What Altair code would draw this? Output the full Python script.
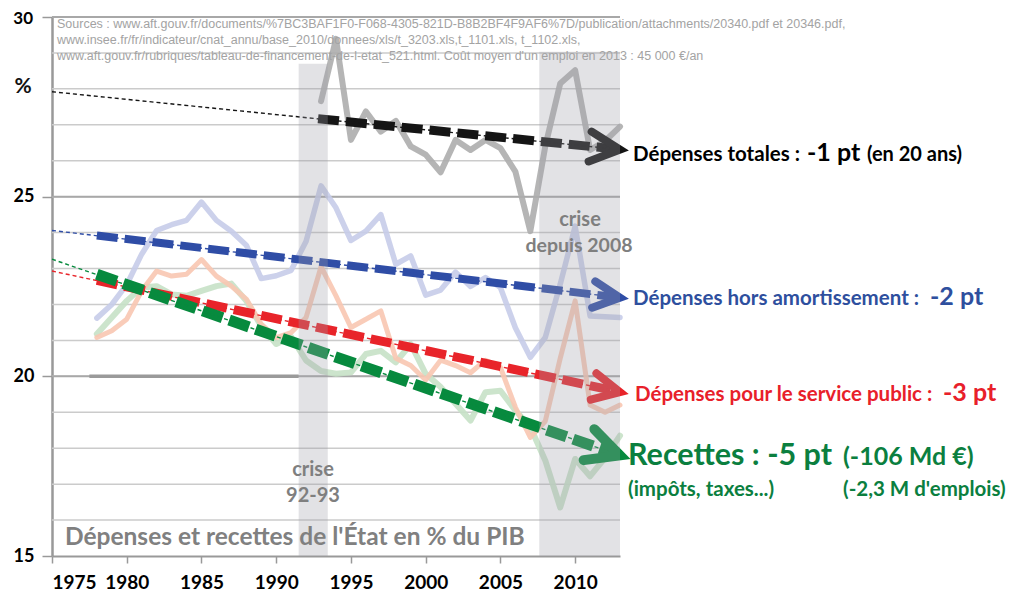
import altair as alt
import pandas as pd

FONT = "Lato"
SRC_FONT = "Liberation Sans"

# ---------------- data ----------------
years = list(range(1978, 2014))
hors_amort = [21.62, 22.0, 22.55, 23.4, 24.06, 24.22, 24.34, 24.85, 24.34, 24.04,
              23.65, 22.72, 22.8, 22.95, 23.76, 25.3, 24.69, 23.78, 24.04, 24.5,
              23.12, 23.35, 22.26, 22.4, 22.9, 22.5, 22.75, 22.47, 21.35, 20.53,
              21.08, 22.56, 24.18, 21.68, 21.66, 21.64]
service_public = [21.08, 21.27, 21.59, 22.38, 22.93, 22.79, 22.84, 23.25, 22.79, 22.51,
                  22.15, 21.45, 21.08, 21.22, 21.64, 23.05, 22.24, 21.36, 21.59, 21.82,
                  20.5, 20.3, 19.9, 20.45, 20.3, 20.1, 20.45, 20.25, 19.14, 18.3,
                  18.75, 20.5, 22.1, 19.2, 19.0, 19.2]
recettes = [21.18, 21.64, 22.1, 22.47, 22.51, 22.28, 22.24, 22.38, 22.51, 22.58,
            22.1, 21.4, 20.9, 21.1, 20.44, 20.15, 20.07, 20.11, 20.62, 20.71,
            20.39, 20.9, 20.07, 19.7, 19.24, 18.77, 19.56, 19.6, 19.05, 18.59,
            17.66, 16.35, 17.7, 17.22, 17.73, 18.35]
years_tot = list(range(1993, 2014))
totales = [27.66, 29.39, 26.58, 27.37, 26.81, 27.11, 26.40, 26.17, 25.68, 26.58,
           26.30, 26.58, 26.35, 25.70, 24.04, 26.4, 28.15, 28.52, 26.30, 26.55, 26.95]

# trend lines (values read at their ends)
trend_keys = ["totales", "hors", "service", "recettes"]
trend_v1975 = [27.92, 24.06, 22.93, 23.26]
trend_v2013 = [26.31, 22.19, 19.56, 17.80]
thick_start_year = [1992.8, 1978, 1978, 1978]
thick_start_val = [27.17, 23.92, 22.67, 22.84]
thick_end_year = [2012.6, 2012.6, 2012.6, 2012.6]
thick_end_val = [26.33, 22.21, 19.60, 17.86]

# crisis bands
band_start = [1991.5, 2007.6]
band_end = [1993.45, 2013]
band_top = [28.7, 29.03]
band_bottom = [15, 15]

grid_values = list(range(16, 30))
major_grid = [20, 25, 30]
x_ticks = [1975, 1980, 1985, 1990, 1995, 2000, 2005, 2010]
y_ticks = [15, 20, 25, 30]

# ---------------- styles ----------------
trend_colors = ["#151515", "#2f4da6", "#e8242a", "#078a3e"]
trend_widths = [9, 8, 9, 11]
arrow_angles = [5.8, 6.8, 12.1, 19.1]
arrow_sizes = [3600, 2800, 2916, 4300]
arrow_sw = [8, 8, 8, 10]

W, H = 568, 539
TOP = 9  # plot top offset inside the svg (page y = 8 + TOP)
xscale = alt.Scale(domain=[1975, 2013], nice=False, zero=False)
yscale = alt.Scale(domain=[15, 30], nice=False, zero=False)
xaxis = alt.Axis(values=x_ticks, format="d", title=None, grid=False)
yaxis = alt.Axis(values=y_ticks, format="d", title=None, grid=False,
                 labelExpr="datum.value == 30 ? '' : datum.label")


def X(f):
    return alt.X(f, type="quantitative", scale=xscale, axis=xaxis)


def Y(f):
    return alt.Y(f, type="quantitative", scale=yscale, axis=yaxis)


layers = []

# gridlines
gdf = pd.DataFrame({"v": grid_values, "a": 1975, "b": 2013})
layers.append(alt.Chart(gdf).mark_rule(color="#cbcbcb", strokeWidth=1.5).encode(
    x=X("a"), x2=alt.X2("b"), y=Y("v")))
mdf = pd.DataFrame({"v": major_grid, "a": 1975, "b": 2013})
layers.append(alt.Chart(mdf).mark_rule(color="#a8a8a8", strokeWidth=2).encode(
    x=X("a"), x2=alt.X2("b"), y=Y("v")))
# thick gray segment on the 20 line
sdf = pd.DataFrame({"v": [20], "a": [1977.5], "b": [1991.5]})
layers.append(alt.Chart(sdf).mark_rule(color="#9a9a9a", strokeWidth=3.5).encode(
    x=X("a"), x2=alt.X2("b"), y=Y("v")))

# series lines
series = [
    (years, recettes, "#c6e1c6", 6),
    (years, service_public, "#f8c7b1", 5),
    (years, hors_amort, "#c7cce9", 5.5),
    (years_tot, totales, "#adadad", 6),
]
for yrs, vals, col, sw in series:
    df = pd.DataFrame({"year": yrs, "v": vals})
    layers.append(alt.Chart(df).mark_line(color=col, strokeWidth=sw, strokeJoin="round",
                                          strokeCap="round", opacity=0.9).encode(
        x=X("year"), y=Y("v")))

# trend lines
for i, k in enumerate(trend_keys):
    thin = pd.DataFrame({"year": [1975, 2013], "v": [trend_v1975[i], trend_v2013[i]]})
    thick = pd.DataFrame({"year": [thick_start_year[i], thick_end_year[i]],
                          "v": [thick_start_val[i], thick_end_val[i]]})
    layers.append(alt.Chart(thick).mark_line(color=trend_colors[i], strokeWidth=trend_widths[i],
                                             strokeDash=[21, 7], strokeCap="butt").encode(
        x=X("year"), y=Y("v")))
    layers.append(alt.Chart(thin).mark_line(color=trend_colors[i], strokeWidth=1.4,
                                            strokeDash=[4, 3]).encode(
        x=X("year"), y=Y("v")))
    tip = pd.DataFrame({"year": [2013], "v": [trend_v2013[i]]})
    layers.append(alt.Chart(tip).mark_point(shape="M-1,-0.5L0,0L-1,0.5", filled=False,
                                            color=trend_colors[i], strokeWidth=arrow_sw[i],
                                            size=arrow_sizes[i], angle=arrow_angles[i],
                                            strokeCap="round", strokeJoin="miter",
                                            opacity=1).encode(
        x=X("year"), y=Y("v")))

# crisis bands (translucent overlay)
bdf = pd.DataFrame({"a": band_start, "b": band_end, "t": band_top, "u": band_bottom})
layers.append(alt.Chart(bdf).mark_rect(color="#a0a0a8", opacity=0.3).encode(
    x=X("a"), x2=alt.X2("b"), y=Y("t"), y2=alt.Y2("u")))

dummy = pd.DataFrame({"d": [0]})


def label(text, px, py, size, color, align="left", baseline="alphabetic",
          font=FONT, weight="bold"):
    # px, py are page coordinates of the reference picture
    return alt.Chart(dummy).mark_text(text=text, align=align, baseline=baseline, font=font,
                                      fontSize=size, fontWeight=weight, color=color).encode(
        x=alt.value(px - 52), y=alt.value(py - 8 - TOP))


# left frame line
layers.append(alt.Chart(dummy).mark_rule(color="#9a9a9a", strokeWidth=1).encode(
    x=alt.value(-46), y=alt.value(-TOP), y2=alt.value(588 - TOP)))

src_col = "#a3a3a3"
layers += [
    label("Sources : www.aft.gouv.fr/documents/%7BC3BAF1F0-F068-4305-821D-B8B2BF4F9AF6%7D/publication/attachments/20340.pdf et 20346.pdf,",
          57, 28, 12.5, src_col, font=SRC_FONT, weight="normal"),
    label(" www.insee.fr/fr/indicateur/cnat_annu/base_2010/donnees/xls/t_3203.xls,t_1101.xls, t_1102.xls,",
          57, 44, 12.5, src_col, font=SRC_FONT, weight="normal"),
    label(" www.aft.gouv.fr/rubriques/tableau-de-financement-de-l-etat_521.html. Coût moyen d'un emploi en 2013 : 45 000 €/an",
          57, 60, 12.5, src_col, font=SRC_FONT, weight="normal"),
    label("30", 33, 19, 17, "#000", align="right", baseline="middle"),
    label("%", 23, 87, 21, "#111", align="center", baseline="middle"),
    label("crise", 313, 470, 20, "#7f7f7f", align="center", baseline="middle"),
    label("92-93", 313, 496, 20, "#7f7f7f", align="center", baseline="middle"),
    label("crise", 580, 220, 20, "#7f7f7f", align="center", baseline="middle"),
    label("depuis 2008", 579, 246, 19.5, "#7f7f7f", align="center", baseline="middle"),
    label("Dépenses et recettes de l'État en % du PIB", 65, 545, 24.5, "#808080"),
    # right annotations
    label("Dépenses totales :", 633, 161, 20.5, "#000000"),
    label("-1 pt", 807, 161, 25, "#000000"),
    label("(en 20 ans)", 867, 161, 20, "#000000"),
    label("Dépenses hors amortissement :", 633, 305, 20.5, "#2e4f9e"),
    label("-2 pt", 930, 305, 25, "#2e4f9e"),
    label("Dépenses pour le service public :", 635, 401, 20.5, "#e8202a"),
    label("-3 pt", 943, 401, 25, "#e8202a"),
    label("Recettes : -5 pt", 628, 465, 30.5, "#0b7f3f"),
    label("(-106 Md €)", 843, 465, 25, "#0b7f3f"),
    label("(impôts, taxes...)", 628, 496, 20.5, "#0b7f3f"),
    label("(-2,3 M d'emplois)", 843, 496, 20.5, "#0b7f3f"),
]

chart = alt.layer(*layers).properties(
    width=W, height=H,
    autosize=alt.AutoSizeParams(type="none"),
    padding={"left": 44, "top": TOP, "right": 389, "bottom": 38},
).configure_view(stroke=None).configure_axisX(
    labelFont=FONT, labelFontSize=19, labelFontWeight="bold", labelColor="#000",
    tickColor="#999", tickSize=7, tickWidth=1.5, domainColor="#999", domainWidth=2,
    labelPadding=10,
).configure_axisY(
    labelFont=FONT, labelFontSize=18, labelFontWeight="bold", labelColor="#000",
    tickColor="#999", tickSize=10, tickWidth=1.5, domainColor="#999", domainWidth=2.5,
    labelPadding=8,
)

chart.save("out.html", embed_options={"renderer": "svg", "actions": False})
